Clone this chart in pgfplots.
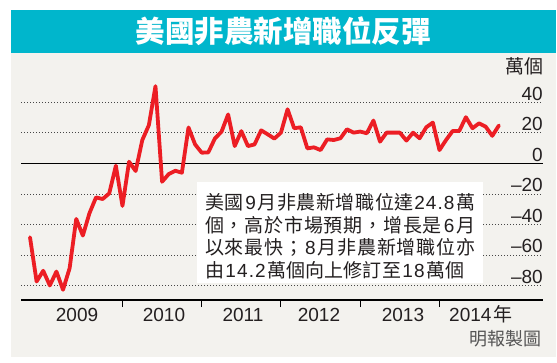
\documentclass[border=0pt]{standalone}
\usepackage{fontspec}
\setmainfont{Liberation Sans}
\newfontfamily\cjk{Noto Sans CJK TC}
\usepackage{pgfplots}
\pgfplotsset{compat=1.18}
\usepgfplotslibrary{fillbetween}
\usepackage{pgfplotstable}
\definecolor{tealc}{RGB}{0,182,204}
\definecolor{bgc}{RGB}{243,242,238}
\definecolor{redc}{RGB}{236,30,36}
\definecolor{textc}{RGB}{35,31,32}
\definecolor{gridc}{RGB}{70,70,70}
\definecolor{creditc}{RGB}{85,85,85}

\pgfplotstableread{
i v
0 -48.3
1 -77.2
2 -70.2
3 -79.8
4 -70.7
5 -82.6
6 -68.5
7 -36.3
8 -47.2
9 -32.6
10 -22.2
11 -23.3
12 -19.6
13 -1.5
14 -27.8
15 1.1
16 -5.0
17 15.2
18 25.0
19 50.5
20 -12.0
21 -7.0
22 -4.8
23 -6.1
24 23.5
25 12.4
26 7.0
27 7.2
28 16.3
29 20.7
30 32.0
31 11.3
32 21.1
33 11.3
34 12.4
35 21.6
36 19.0
37 16.2
38 20.1
39 35.4
40 23.0
41 23.6
42 9.8
43 10.5
44 8.7
45 15.7
46 15.3
47 16.4
48 22.3
49 20.1
50 20.8
51 19.7
52 28.0
53 14.2
54 20.1
55 20.1
56 20.1
57 14.9
58 20.1
59 16.4
60 23.6
61 26.7
62 8.7
63 15.3
64 21.2
65 21.2
66 30.2
67 23.0
68 26.2
69 24.0
70 18.0
71 24.8
}\nfp

\newcommand\lab{\fontsize{19bp}{22bp}\selectfont}
\newcommand\ann{\cjk\fontsize{19bp}{23bp}\selectfont}
\newcommand\dk{\kern1.1bp}

\begin{document}
\begin{tikzpicture}[x=1bp,y=1bp]
\fill[white] (0,0) rectangle (557,362);
\fill[bgc] (11,5.3) rectangle (556,309.3);
\fill[tealc] (11,309.3) rectangle (556,352);
\node[text=white,inner sep=0,font={\cjk\bfseries\fontsize{29.5bp}{32bp}\selectfont}] at (283,330.6) {美國非農新增職位反彈};

\begin{axis}[
  at={(21bp,62bp)}, anchor=south west,
  scale only axis, width=522bp, height=228.4bp,
  xmin=-1.363, xmax=77.68, ymin=-89.3, ymax=60,
  axis x line*=bottom, axis y line*=left,
  x axis line style={black, line width=2bp, -},
  y axis line style={draw=none},
  xtick={14,26,38,50,62}, xticklabel=\empty,
  ytick=\empty,
  tick align=outside, major tick length=7bp,
  xtick style={black, line width=1bp},
  clip=false, axis on top,
]
\addplot[name path=curve, draw=none, forget plot] table[x=i,y=v]{\nfp};
\path[name path=base] (axis cs:0,-89.3) -- (axis cs:71,-89.3);
\addplot[white, draw=none, forget plot] fill between[of=curve and base];

\pgfplotsinvokeforeach{-80,-60,-40,-20,20,40}{
  \draw[gridc, line width=0.9bp, dash pattern=on 0.9bp off 2.1bp] (axis cs:-1.363,#1) -- (axis cs:77.68,#1);
}
\draw[black, line width=1.1bp] (axis cs:-1.363,0) -- (axis cs:77.68,0);

\addplot[redc, line width=3.8bp, line join=round, line cap=round, mark=none] table[x=i,y=v]{\nfp};

\node[anchor=base east, inner sep=0, yshift=2.2bp, font=\lab, text=textc] at (axis cs:77.68,40) {40};
\node[anchor=base east, inner sep=0, yshift=2.2bp, font=\lab, text=textc] at (axis cs:77.68,20) {20};
\node[anchor=base east, inner sep=0, yshift=2.2bp, font=\lab, text=textc] at (axis cs:77.68,0) {0};
\node[anchor=base east, inner sep=0, yshift=2.2bp, font=\lab, text=textc] at (axis cs:77.68,-20) {–20};
\node[anchor=base east, inner sep=0, yshift=2.2bp, font=\lab, text=textc] at (axis cs:77.68,-40) {–40};
\node[anchor=base east, inner sep=0, yshift=2.2bp, font=\lab, text=textc] at (axis cs:77.68,-60) {–60};
\node[anchor=base east, inner sep=0, yshift=2.2bp, font=\lab, text=textc] at (axis cs:77.68,-80) {–80};

\node[anchor=base, inner sep=0, yshift=-21.7bp, font=\lab, text=textc] at (axis cs:7.12,-89.3) {2009};
\node[anchor=base, inner sep=0, yshift=-21.7bp, font=\lab, text=textc] at (axis cs:20.29,-89.3) {2010};
\node[anchor=base, inner sep=0, yshift=-21.7bp, font=\lab, text=textc] at (axis cs:32.25,-89.3) {2011};
\node[anchor=base, inner sep=0, yshift=-21.7bp, font=\lab, text=textc] at (axis cs:43.76,-89.3) {2012};
\node[anchor=base, inner sep=0, yshift=-21.7bp, font=\lab, text=textc] at (axis cs:56.48,-89.3) {2013};
\node[anchor=base west, inner sep=0, yshift=-21.7bp, font=\lab, text=textc] at (axis cs:63.45,-89.3) {2014\kern1.5bp{\cjk 年}};
\end{axis}

\node[anchor=east, inner sep=0, text=textc, font={\cjk\fontsize{19bp}{22bp}\selectfont}] at (544,295.5) {萬個};
\node[anchor=east, inner sep=0, text=creditc, font={\cjk\fontsize{18bp}{21bp}\selectfont}] at (542,23) {明報製圖};

\fill[white] (197,79) rectangle (483,180);
\node[anchor=west, inner sep=0, text=textc, font=\ann] at (205,159.3) {\spaceskip=0pt plus 1fil\makebox[270bp][s]{美 國 {\rmfamily\dk 9\dk} 月 非 農 新 增 職 位 達 {\rmfamily 2\dk 4\dk .\dk 8\dk} 萬}};
\node[anchor=west, inner sep=0, text=textc, font=\ann] at (205,137) {\spaceskip=0pt plus 1fil\makebox[270bp][s]{個 ， 高 於 市 場 預 期 ， 增 長 是 {\rmfamily\dk 6\dk} 月}};
\node[anchor=west, inner sep=0, text=textc, font=\ann] at (205,114.5) {\spaceskip=0pt plus 1fil\makebox[270bp][s]{以 來 最 快 ； {\rmfamily\dk 8\dk} 月 非 農 新 增 職 位 亦}};
\node[anchor=west, inner sep=0, text=textc, font=\ann] at (205,92) {\spaceskip=0pt plus 1fil\makebox[259bp][s]{由 {\rmfamily\dk 1\dk 4\dk .\dk 2\dk} 萬 個 向 上 修 訂 至 {\rmfamily\dk 1\dk 8\dk} 萬 個}};
\end{tikzpicture}
\end{document}
